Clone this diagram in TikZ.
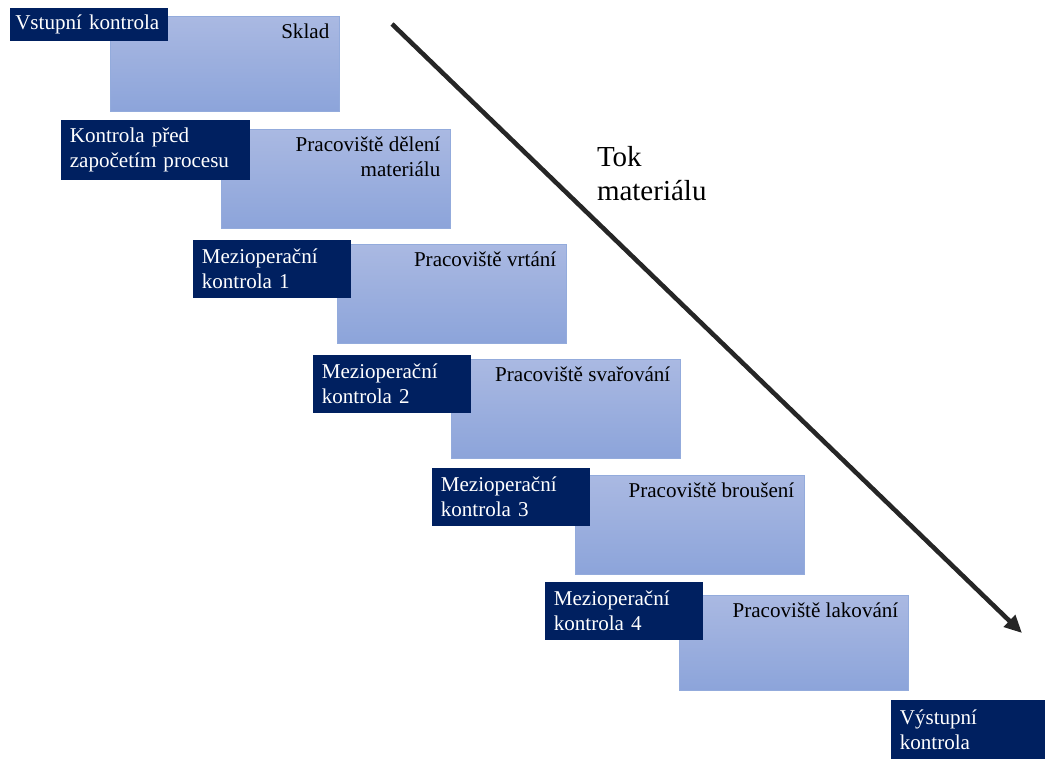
\documentclass[tikz,border=0pt]{standalone}
\usepackage{fontspec}
\setmainfont{Liberation Serif}
\usetikzlibrary{arrows.meta}

\definecolor{navy}{HTML}{002060}
\definecolor{stationtop}{HTML}{AAB9E2}
\definecolor{stationbot}{HTML}{8CA4DA}
\definecolor{stationline}{HTML}{93ABDC}
\definecolor{flow}{HTML}{262626}

\begin{document}
\begin{tikzpicture}[
    x=0.02cm, y=-0.02cm,
    every node/.style={rectangle, outer sep=0pt, font=\fontsize{12}{14.2}\selectfont},
    station/.style={anchor=north west, draw=stationline, line width=0.5pt,
        top color=stationtop, bottom color=stationbot,
        minimum width=4.58cm, minimum height=1.98cm},
    slabel/.style={anchor=north east, align=right, inner sep=2pt, xshift=-3.5pt, yshift=-2.5pt},
    check/.style={anchor=north west, fill=navy, text=white, align=left,
        inner xsep=5pt, inner ysep=0pt, text width=3.16cm-10pt,
        minimum width=3.16cm, minimum height=1.16cm}
]
\useasboundingbox (0,0) rectangle (1045,758);

% workstations
\node [station, minimum height=1.9cm, label={[slabel]north east:Sklad}] (sklad) at (110,16) {};
\node [station, label={[slabel]north east:{Pracoviště dělení\\materiálu}}] (deleni) at (221,129) {};
\node [station, label={[slabel]north east:Pracoviště vrtání}] (vrtani) at (337,244) {};
\node [station, label={[slabel]north east:Pracoviště svařování}] (svarovani) at (451,359) {};
\node [station, label={[slabel]north east:Pracoviště broušení}] (brouseni) at (575,475) {};
\node [station, minimum height=1.9cm, label={[slabel]north east:Pracoviště lakování}] (lakovani) at (679,595) {};

% inspections
\node [check, inner xsep=3pt, text width=3.16cm-6pt, minimum height=0.66cm] (vstup) at (10,8) {Vstupní kontrola};
\node [check, minimum width=3.78cm, text width=3.78cm-10pt, minimum height=1.2cm] (pred) at (61,120) {Kontrola před\\započetím procesu};
\node [check] (mezi1) at (193,240) {Mezioperační\\kontrola 1};
\node [check] (mezi2) at (313,355) {Mezioperační\\kontrola 2};
\node [check] (mezi3) at (432,468) {Mezioperační\\kontrola 3};
\node [check] (mezi4) at (545,582) {Mezioperační\\kontrola 4};
\node [check, minimum width=3.14cm, minimum height=1.2cm] (vystup) at (891,700) {Výstupní\\kontrola};

% material flow
\node [anchor=north west, align=left, inner sep=0pt, font=\fontsize{16.5}{19.5}\selectfont] (tok) at (597,146) {Tok\\materiálu};
\coordinate (start) at (392,24);
\coordinate (end) at (1022,633);
\draw [flow, line width=2.6pt, -{Triangle[length=10pt,width=9pt]}] (start) -- (end);

\end{tikzpicture}
\end{document}
